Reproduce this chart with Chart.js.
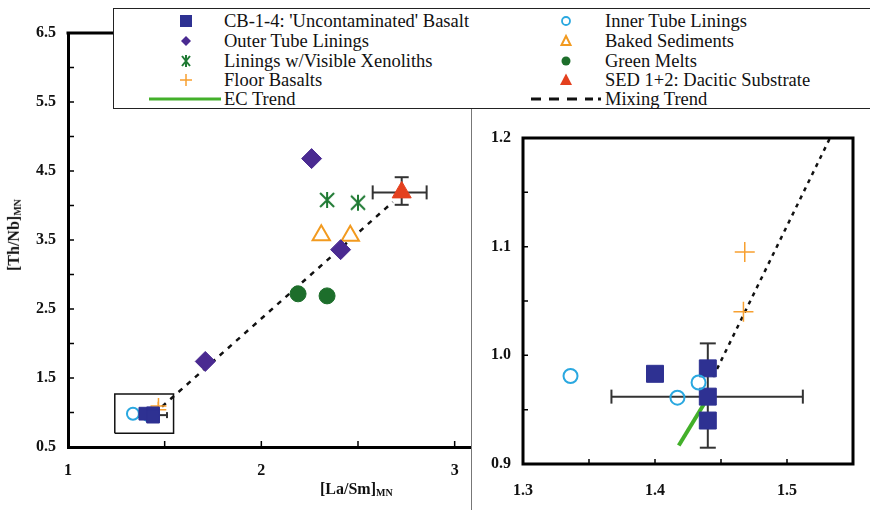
<!DOCTYPE html>
<html lang="en">
<head>
<meta charset="UTF-8">
<title>[Th/Nb] vs [La/Sm]</title>
<script src="https://cdn.jsdelivr.net/npm/chart.js"></script>
<style>
    body { margin: 0; width: 870px; height: 510px; overflow: hidden; background: #fff; font-family: "Liberation Serif", "Times New Roman", serif; position: relative; }
    #main { position: absolute; left: 0; top: 0; }
    #insetBox { position: absolute; left: 471px; top: 108px; width: 420px; height: 420px; background: #fff; border-left: 1px solid #777; border-top: 1px solid #777; }
    #inset { position: absolute; left: 0; top: 0; }
    #legend { position: absolute; left: 113px; top: 8px; width: 790px; height: 99px; border: 1.5px solid #222; background: #fff; }
    .lg { position: absolute; font-family: "Liberation Serif", "Times New Roman", serif; font-size: 18.5px; color: #111; line-height: 20px; white-space: nowrap; }
    .mk { position: absolute; }
    .axt { position: absolute; font-family: "Liberation Serif", serif; font-weight: bold; font-size: 16px; color: #111; white-space: nowrap; }
    .axt sub { font-size: 10px; vertical-align: -2px; }
</style>
</head>
<body>

<canvas id="main" width="870" height="510"></canvas>
<div id="insetBox"><canvas id="inset" width="398" height="401"></canvas></div>
<div id="legend"></div>
<div class="axt" id="xTitle" style="left:320px; top:480px;">[La/Sm]<sub>MN</sub></div>
<div class="axt" id="yTitle" style="left:-22px; top:226px; transform: rotate(-90deg);">[Th/Nb]<sub>MN</sub></div>

<script>
// --- data ---
const cbX = [1.400, 1.440, 1.440, 1.440];        // CB-1-4 'Uncontaminated' Basalt
const cbY = [0.983, 0.988, 0.962, 0.940];
const innerX = [1.336, 1.417, 1.433];             // Inner Tube Linings
const innerY = [0.981, 0.961, 0.975];
const outerX = [2.26, 2.41, 1.71];                // Outer Tube Linings
const outerY = [4.68, 3.36, 1.74];
const xenoX = [2.34, 2.50];                       // Linings w/Visible Xenoliths
const xenoY = [4.08, 4.04];
const bakedX = [2.31, 2.46];                      // Baked Sediments
const bakedY = [3.57, 3.56];
const floorX = [1.468, 1.467];                    // Floor Basalts
const floorY = [1.095, 1.040];
const meltX = [2.19, 2.34];                       // Green Melts
const meltY = [2.72, 2.69];
const sedX = [2.726];                             // SED 1+2: Dacitic Substrate
const sedY = [4.19];
const sedErrX = [2.576, 2.855];
const sedErrY = [4.01, 4.41];
const cbMean = [1.440, 0.962];
const cbErrX = [1.367, 1.512];
const cbErrY = [0.915, 1.011];
const ecX = [1.418, 1.437];                       // EC Trend
const ecY = [0.917, 0.955];
const mixX = [1.444, 2.68];                       // Mixing Trend
const mixY = [0.980, 4.05];
const zoomBoxX = [1.242, 1.546];                  // outline of the zoomed area
const zoomBoxY = [0.700, 1.268];

const mainXLabels = ['1', '2', '3'];
const mainYLabels = ['0.5', '1.5', '2.5', '3.5', '4.5', '5.5', '6.5'];
const insetXLabels = ['1.3', '1.4', '1.5'];
const insetYLabels = ['0.9', '1.0', '1.1', '1.2'];

const C = {
    cb: '#2e3192', outer: '#4a2a91', xeno: '#1f7a33', floor: '#f7a030',
    inner: '#2aa8e0', baked: '#f29a1f', melt: '#1d6e2b', sed: '#e4401e',
    ec: '#43b02a', err: '#333'
};

function pts(xs, ys) { return xs.map((x, i) => ({ x: x, y: ys[i] })); }

function asterisk(size, color) {
    const c = document.createElement('canvas');
    c.width = c.height = size;
    const g = c.getContext('2d');
    g.strokeStyle = color; g.lineWidth = 2;
    const a = 2, b = size - 2;
    g.beginPath();
    g.moveTo(a, a); g.lineTo(b, b);
    g.moveTo(b, a); g.lineTo(a, b);
    g.moveTo(size / 2, a - 1); g.lineTo(size / 2, b + 1);
    g.stroke();
    return c;
}

function pointSet(data, style, r, fill, stroke, bw) {
    return { data: data, pointStyle: style, pointRadius: r, pointBackgroundColor: fill,
             pointBorderColor: stroke, pointBorderWidth: bw, showLine: false };
}

function lineSet(data, color, width, dash) {
    return { data: data, showLine: true, borderColor: color, borderWidth: width,
             borderDash: dash || [], pointRadius: 0, fill: false };
}

function errorBars(cx, cy, xs, ys, capH, capV) {
    return [
        { data: [{ x: xs[0], y: cy }, { x: xs[1], y: cy }], showLine: true, borderColor: C.err, borderWidth: 2,
          pointStyle: 'line', pointRotation: 90, pointRadius: capH, pointBorderColor: C.err, pointBorderWidth: 2 },
        { data: [{ x: cx, y: ys[0] }, { x: cx, y: ys[1] }], showLine: true, borderColor: C.err, borderWidth: 2,
          pointStyle: 'line', pointRotation: 0, pointRadius: capV, pointBorderColor: C.err, pointBorderWidth: 2 }
    ];
}

const none = 'rgba(0,0,0,0)';

function labelFor(list) {
    return function (v) {
        const hit = list.find(s => Math.abs(parseFloat(s) - v) < 1e-6);
        return hit !== undefined ? hit : '';
    };
}

// frame + inward tick marks
const framePlugin = {
    id: 'frame',
    afterDraw(chart, args, opts) {
        const ctx = chart.ctx, a = chart.chartArea;
        const xs = chart.scales.x, ys = chart.scales.y;
        ctx.save();
        ctx.strokeStyle = '#000';
        ctx.lineWidth = 3;
        ctx.beginPath();
        if (opts.box) {
            ctx.rect(a.left, a.top, a.right - a.left, a.bottom - a.top);
        } else {
            ctx.moveTo(a.left - 1.5, a.top); ctx.lineTo(a.right, a.top);
        }
        ctx.stroke();
        ctx.lineWidth = 1.5;
        ctx.beginPath();
        xs.ticks.forEach(t => {
            if (t.value <= xs.min || t.value >= xs.max) return;
            const p = xs.getPixelForValue(t.value);
            ctx.moveTo(p, a.bottom); ctx.lineTo(p, a.bottom - opts.len);
        });
        ys.ticks.forEach(t => {
            if (t.value <= ys.min || t.value >= ys.max) return;
            const p = ys.getPixelForValue(t.value);
            ctx.moveTo(a.left, p); ctx.lineTo(a.left + opts.len, p);
        });
        ctx.stroke();
        ctx.restore();
    }
};

const tickFont = { family: 'Liberation Serif', size: 16, weight: 'bold' };

function scales(xmin, xmax, xstep, ymin, ymax, ystep, xLabels, yLabels, yW, xH, xPad, yPad, border) {
    const b = border ? { display: true, color: '#000', width: 3 } : { display: false };
    return {
        x: { type: 'linear', min: xmin, max: xmax, grid: { display: false, drawTicks: false }, border: b,
             afterFit: s => { s.height = xH; },
             ticks: { stepSize: xstep, font: tickFont, color: '#111', padding: xPad, autoSkip: false, maxRotation: 0,
                      includeBounds: false, callback: labelFor(xLabels) } },
        y: { type: 'linear', min: ymin, max: ymax, grid: { display: false, drawTicks: false }, border: b,
             afterFit: s => { s.width = yW; },
             ticks: { stepSize: ystep, font: tickFont, color: '#111', padding: yPad, autoSkip: false,
                      callback: labelFor(yLabels) } }
    };
}

const xenoMarker = asterisk(18, C.xeno);

// main plot
new Chart(document.getElementById('main'), {
    type: 'scatter',
    data: {
        datasets: [
            pointSet(pts(sedX, sedY), 'triangle', 11, C.sed, C.sed, 1),
            pointSet(pts(cbX, cbY), 'rect', 9, C.cb, C.cb, 1),
            pointSet(pts(innerX, innerY), 'circle', 6, none, C.inner, 2),
            pointSet(pts(floorX, floorY), 'cross', 8, none, C.floor, 1.5),
            pointSet(pts(outerX, outerY), 'rectRot', 10, C.outer, C.outer, 1),
            pointSet(pts(xenoX, xenoY), xenoMarker, 9, C.xeno, C.xeno, 1),
            pointSet(pts(bakedX, bakedY), 'triangle', 10, '#fff', C.baked, 2),
            pointSet(pts(meltX, meltY), 'circle', 8, C.melt, C.melt, 1),
            ...errorBars(sedX[0], sedY[0], sedErrX, sedErrY, 7, 7),
            ...errorBars(cbMean[0], cbMean[1], cbErrX, cbErrY, 3, 3),
            lineSet(pts(ecX, ecY), C.ec, 3),
            lineSet(pts(mixX, mixY), '#111', 2.5, [5, 6]),
            lineSet([{ x: zoomBoxX[0], y: zoomBoxY[0] }, { x: zoomBoxX[1], y: zoomBoxY[0] },
                     { x: zoomBoxX[1], y: zoomBoxY[1] }, { x: zoomBoxX[0], y: zoomBoxY[1] },
                     { x: zoomBoxX[0], y: zoomBoxY[0] }], '#111', 1.5)
        ]
    },
    options: {
        responsive: false, animation: false, events: [],
        layout: { padding: { left: 0, top: 33, right: 396, bottom: 0 } },
        plugins: { legend: { display: false }, tooltip: { enabled: false }, frame: { box: false, len: 6 } },
        scales: scales(1, 3.1, 0.5, 0.5, 6.5, 0.5, mainXLabels, mainYLabels, 68, 63, 14, 12, true)
    },
    plugins: [framePlugin]
});

// inset (zoomed area)
new Chart(document.getElementById('inset'), {
    type: 'scatter',
    data: {
        datasets: [
            pointSet(pts(floorX, floorY), 'cross', 10, none, C.floor, 1.5),
            pointSet(pts(innerX, innerY), 'circle', 7, none, C.inner, 2),
            pointSet(pts(cbX, cbY), 'rect', 12, C.cb, C.cb, 1),
            ...errorBars(cbMean[0], cbMean[1], cbErrX, cbErrY, 7, 8),
            lineSet(pts(ecX, ecY), C.ec, 4),
            lineSet(pts(mixX, mixY), '#111', 2.5, [4, 5])
        ]
    },
    options: {
        responsive: false, animation: false, events: [],
        layout: { padding: { left: 0, top: 29, right: 10, bottom: 0 } },
        plugins: { legend: { display: false }, tooltip: { enabled: false }, frame: { box: true, len: 5 } },
        scales: scales(1.3, 1.55, 0.05, 0.9, 1.2, 0.05, insetXLabels, insetYLabels, 51, 46, 17, 12, false)
    },
    plugins: [framePlugin]
});

// legend (two columns)
const legendLabels = [
    "CB-1-4: 'Uncontaminated' Basalt", 'Outer Tube Linings', 'Linings w/Visible Xenoliths', 'Floor Basalts', 'EC Trend',
    'Inner Tube Linings', 'Baked Sediments', 'Green Melts', 'SED 1+2: Dacitic Substrate', 'Mixing Trend'
];
const legendMarks = [
    `<rect x="6" y="4" width="12" height="12" fill="${C.cb}"/>`,
    `<polygon points="12,5 17,10 12,15 7,10" fill="${C.outer}"/>`,
    `<path d="M8 5 L16 15 M16 5 L8 15 M12 4 L12 16" stroke="${C.xeno}" stroke-width="2"/>`,
    `<path d="M12 4 L12 16 M6 10 L18 10" stroke="${C.floor}" stroke-width="1.5"/>`,
    `<line x1="0" y1="10" x2="72" y2="10" stroke="${C.ec}" stroke-width="3"/>`,
    `<circle cx="12" cy="10" r="4" fill="none" stroke="${C.inner}" stroke-width="1.8"/>`,
    `<polygon points="12,5 16.5,14 7.5,14" fill="none" stroke="${C.baked}" stroke-width="2"/>`,
    `<circle cx="12" cy="10" r="4.5" fill="${C.melt}"/>`,
    `<polygon points="12,3.5 18,15 6,15" fill="${C.sed}"/>`,
    `<line x1="2" y1="10" x2="64" y2="10" stroke="#111" stroke-width="3" stroke-dasharray="10 8"/><rect x="69" y="8.5" width="3" height="3" fill="#111"/>`
];
const rowTop = [10, 30, 50, 69, 88];
const lg = document.getElementById('legend');
legendLabels.forEach((txt, i) => {
    const col = i < 5 ? 0 : 1, row = i % 5;
    const isLine = row === 4;
    const mkLeft = col === 0 ? (isLine ? 148 : 173) : (isLine ? 528 : 553);
    const textLeft = col === 0 ? 223 : 604;
    const m = document.createElement('div');
    m.className = 'mk';
    m.style.left = (mkLeft - 113) + 'px';
    m.style.top = (rowTop[row] - 8) + 'px';
    m.innerHTML = `<svg width="${isLine ? 74 : 24}" height="20">${legendMarks[i]}</svg>`;
    lg.appendChild(m);
    const t = document.createElement('div');
    t.className = 'lg';
    t.style.left = (textLeft - 113) + 'px';
    t.style.top = (rowTop[row] - 8) + 'px';
    t.textContent = txt;
    lg.appendChild(t);
});
</script>

</body>
</html>
